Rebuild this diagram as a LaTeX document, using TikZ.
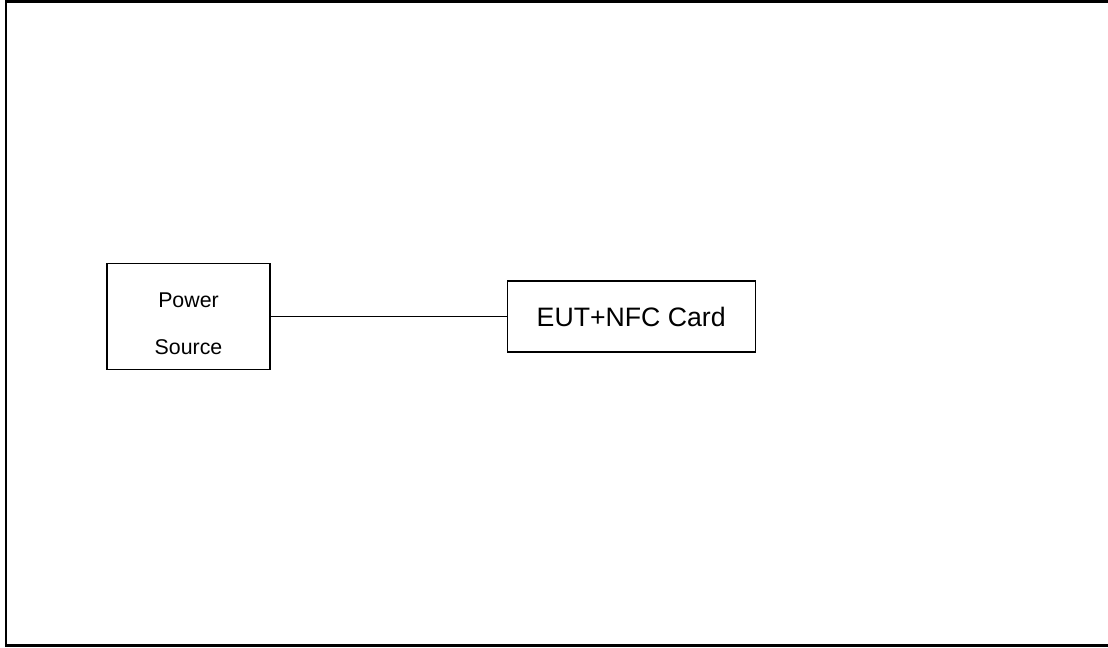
\documentclass[tikz,border=0pt]{standalone}
\usepackage{fontspec}
\setmainfont{Liberation Sans}
\usetikzlibrary{positioning}

\begin{document}
\begin{tikzpicture}[
  x=0.75pt, y=-0.75pt,
  box/.style={rectangle, draw, line width=0.9pt, inner sep=0pt},
  link/.style={line width=1.3pt},
  frame/.style={line width=1.8pt}
]
  \useasboundingbox (0,0) rectangle (1108,647);
  \draw[frame] (1110,1.5) -- (6,1.5) -- (6,645.5) -- (1110,645.5);

  \node[box, minimum width=122.25pt, minimum height=79.5pt] (power) at (188.5,316.5) {};
  \node[align=center, font=\fontsize{16pt}{35pt}\selectfont] (powertext) at ([yshift=-5.5pt]power.center) {Power\\Source};
  \node[box, right=177pt of power, minimum width=186pt, minimum height=53.25pt,
        font=\fontsize{20pt}{24pt}\selectfont] (eut) {EUT+NFC Card};

  \draw[link] (power) -- (eut);
\end{tikzpicture}
\end{document}
